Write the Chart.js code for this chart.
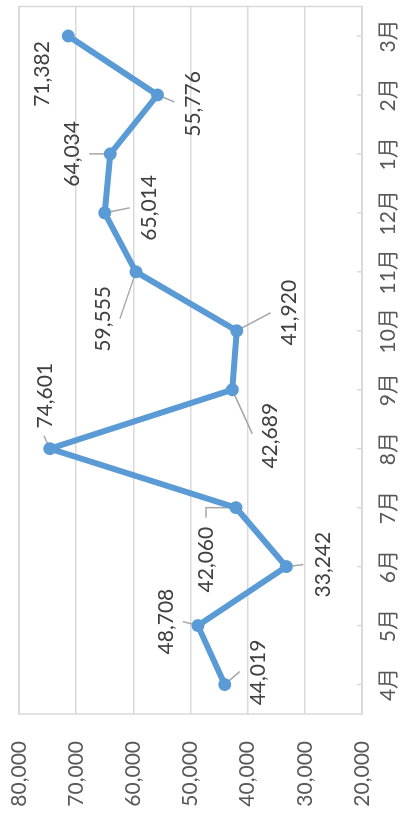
<!DOCTYPE html>
<html>
<head>
<meta charset="utf-8">
<script src="https://cdn.jsdelivr.net/npm/chart.js@4"></script>
<style>
  html, body { margin: 0; padding: 0; background: #fff; overflow: hidden; }
  body { width: 405px; height: 813px; position: relative; }
  /* chart is drawn landscape, then turned to read bottom-to-top like the source */
  #wrap { position: absolute; left: 0; top: 813px; width: 813px; height: 405px;
          transform-origin: 0 0; transform: rotate(-90deg); }
</style>
</head>
<body>
<div id="wrap"><canvas id="c" width="813" height="405"></canvas></div>
<script>
const months = ['4月','5月','6月','7月','8月','9月','10月','11月','12月','1月','2月','3月'];
const amounts = [44019, 48708, 33242, 42060, 74601, 42689, 41920, 59555, 65014, 64034, 55776, 71382];
const valueTicks = [20000, 30000, 40000, 50000, 60000, 70000, 80000];

// label placement relative to each point (landscape px) and leader line end
const labelOffsets = [[12,34],[4,-32],[2,37],[-52,-30],[53,-5],[-46,38],[18,53],[-47,-33],[5,45],[0,-38],[-9,36],[-38,-26]];
const leaderEnds   = [[13,15],[4,-15],[2,17],[-10,-30],[13,-6],[-44,20],[18,34],[-47,-16],[5,25],[0,-21],[-7,17],null];

const FONT = 'Lato, "Noto Sans CJK JP", sans-serif';
const fmt = v => v.toLocaleString('en-US');

const extras = {
  id: 'extras',
  beforeDatasetsDraw(chart) {
    const { ctx, chartArea: a, scales } = chart;
    ctx.save();
    ctx.strokeStyle = '#D9D9D9';
    ctx.lineWidth = 1.5;
    ctx.strokeRect(a.left, a.top, a.right - a.left, a.bottom - a.top);
    // small inside tick marks on the category axis
    scales.x.ticks.forEach((t, i) => {
      const px = scales.x.getPixelForTick(i);
      ctx.beginPath();
      ctx.moveTo(px, a.bottom);
      ctx.lineTo(px, a.bottom - 5);
      ctx.stroke();
    });
    // leader lines
    const meta = chart.getDatasetMeta(0);
    ctx.strokeStyle = '#A6A6A6';
    ctx.lineWidth = 1.5;
    meta.data.forEach((pt, i) => {
      const e = leaderEnds[i];
      if (!e) return;
      ctx.beginPath();
      ctx.moveTo(pt.x, pt.y);
      if (i === 3) ctx.lineTo(pt.x, pt.y + e[1]);
      ctx.lineTo(pt.x + e[0], pt.y + e[1]);
      ctx.stroke();
    });
    ctx.restore();
  },
  afterDatasetsDraw(chart) {
    const { ctx } = chart;
    const meta = chart.getDatasetMeta(0);
    ctx.save();
    ctx.font = '21px ' + FONT;
    ctx.fillStyle = '#404040';
    ctx.textAlign = 'center';
    ctx.textBaseline = 'middle';
    meta.data.forEach((pt, i) => {
      const o = labelOffsets[i];
      ctx.fillText(fmt(amounts[i]), pt.x + o[0], pt.y + o[1]);
    });
    ctx.restore();
  }
};

new Chart(document.getElementById('c'), {
  type: 'line',
  data: {
    labels: months,
    datasets: [{
      data: amounts,
      borderColor: '#5B9BD5',
      backgroundColor: '#5B9BD5',
      borderWidth: 6,
      borderCapStyle: 'round',
      borderJoinStyle: 'round',
      pointRadius: 6.5,
      pointBorderWidth: 0,
      pointBackgroundColor: '#5B9BD5',
      tension: 0
    }]
  },
  options: {
    responsive: false,
    animation: false,
    devicePixelRatio: 1,
    layout: { padding: { left: 0, top: 19, right: 5, bottom: 0 } },
    plugins: { legend: { display: false }, tooltip: { enabled: false } },
    scales: {
      x: {
        offset: true,
        grid: { display: false, drawTicks: false },
        border: { display: true, color: '#D9D9D9', width: 1.5 },
        ticks: { color: '#595959', font: { family: FONT, size: 21 }, padding: 14, maxRotation: 0, autoSkip: false },
        afterFit: s => { s.height = 43; }
      },
      y: {
        min: 20000,
        max: 80000,
        afterBuildTicks: s => { s.ticks = valueTicks.map(v => ({ value: v })); },
        grid: { color: '#D9D9D9', lineWidth: 1.5, drawTicks: false },
        border: { display: false },
        ticks: { color: '#595959', font: { family: FONT, size: 21 }, padding: 27, callback: v => fmt(v) },
        afterFit: s => { s.width = 99; s.paddingTop = 0; }
      }
    }
  },
  plugins: [extras]
});
</script>
</body>
</html>
